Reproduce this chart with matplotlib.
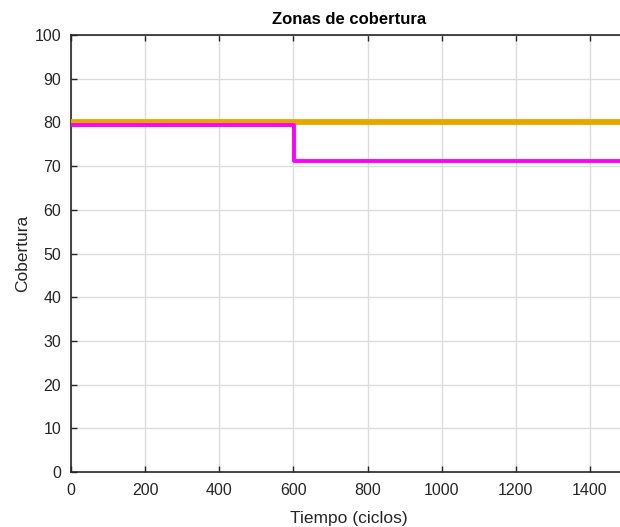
import matplotlib
matplotlib.use('Agg')
import matplotlib.pyplot as plt

# Series (ciclos, cobertura)
tiempo = [0, 601, 1500]
zona_ref = [80.0, 80.0, 80.0]
zona_real = [79.4, 71.2, 71.2]

x_ticks = [0, 200, 400, 600, 800, 1000, 1200, 1400]
y_ticks = [0, 10, 20, 30, 40, 50, 60, 70, 80, 90, 100]

plt.rcParams['font.family'] = ['Liberation Sans', 'DejaVu Sans']

fig = plt.figure(figsize=(6.2, 5.27), dpi=100)
ax = fig.add_axes([71 / 620, 55 / 527, 556 / 620, 437 / 527])

ax.plot(tiempo, zona_ref, color='#e6a800', linewidth=4.2, drawstyle='steps-post',
        solid_capstyle='butt', zorder=3)
ax.plot(tiempo, zona_real, color='#ff00ff', linewidth=2.8, drawstyle='steps-post',
        solid_capstyle='butt', zorder=4)

ax.set_xlim(0, 1500)
ax.set_ylim(0, 100)
ax.set_xticks(x_ticks)
ax.set_yticks(y_ticks)
ax.grid(True, color='#dcdcdc', linewidth=1.0)
ax.set_axisbelow(True)
ax.tick_params(direction='in', length=4, width=1, colors='#262626', labelsize=11.5,
               top=True, right=False)
ax.tick_params(axis='x', pad=8)
ax.tick_params(axis='y', pad=7)
for s in ax.spines.values():
    s.set_color('#262626')
    s.set_linewidth(1.2)

ax.set_title('Zonas de cobertura', fontsize=12, fontweight='bold', pad=8)
ax.set_xlabel('Tiempo (ciclos)', fontsize=12.5, color='#262626', labelpad=9)
ax.set_ylabel('Cobertura', fontsize=12.5, color='#262626', labelpad=3)

fig.savefig('out.png', dpi=100)
